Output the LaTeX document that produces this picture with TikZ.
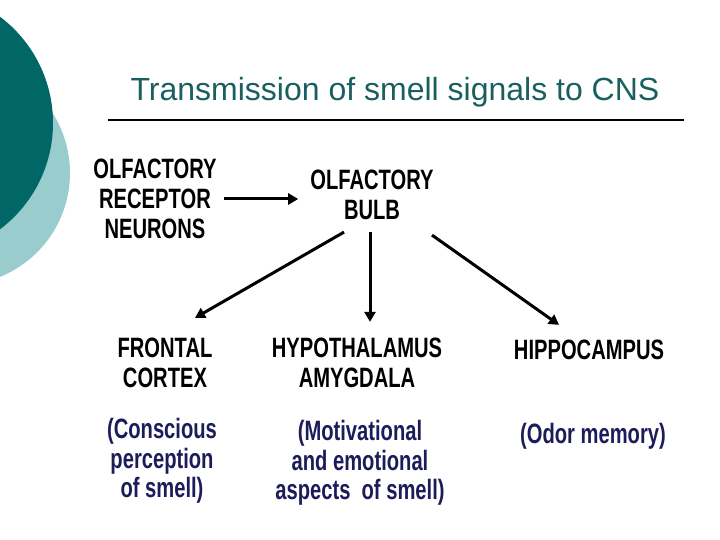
\documentclass[tikz,border=0pt]{standalone}
\usepackage{fontspec}
\setmainfont{Liberation Sans}
\newfontfamily\narrowfont[FakeStretch=0.72]{Liberation Sans}
\usetikzlibrary{arrows.meta,positioning}
\definecolor{darkteal}{HTML}{006666}
\definecolor{paleteal}{HTML}{99CCCC}
\definecolor{titleteal}{HTML}{1A5F60}
\definecolor{notenavy}{HTML}{1C1C5A}

\begin{document}
\begin{tikzpicture}[
    x=1pt, y=-1pt,
    lbl/.style={font=\narrowfont\bfseries\fontsize{28}{30}\selectfont, align=center, inner sep=0pt, text=black},
    note/.style={font=\narrowfont\bfseries\fontsize{28}{29.5}\selectfont, align=center, inner sep=0pt, text=notenavy},
    flow/.style={-{Triangle[length=10pt,width=11pt]}, line width=3pt, black},
]
\useasboundingbox (0,0) rectangle (720,540);

% ============================================================
% DECORATION: CIRCLES AND TITLE
% ============================================================
\begin{scope}
    \clip (0,0) rectangle (720,540);
    \fill[paleteal] (-42,173) circle (112);
    \fill[darkteal] (-80,123) circle (133);
\end{scope}

\node[font=\fontsize{32}{34}\selectfont, text=titleteal] (title) at (395,92) {Transmission of smell signals to CNS};
\coordinate (ruleL) at (108,120);
\coordinate (ruleR) at (684,120);
\draw[line width=1.6pt] (ruleL) -- (ruleR);

% ============================================================
% PATHWAY
% ============================================================
\node[lbl] (orn) at (155,199) {OLFACTORY\\RECEPTOR\\NEURONS};
\node[lbl] (bulb) at (372,195) {OLFACTORY\\BULB};

\node[lbl] (cortex) at (165,363) {FRONTAL\\CORTEX};
\node[lbl] (hypo) at (357,363) {HYPOTHALAMUS\\AMYGDALA};
\node[lbl] (hippo) at (589,350) {HIPPOCAMPUS};

\node[note] (cortexnote) at (162,461) {(Conscious\\perception\\of smell)};
\node[note] (hyponote) at (360,463) {(Motivational\\and emotional\\aspects~ of smell)};
\node[note] (hipponote) at (593,436) {(Odor memory)};

% Arrows
\draw[flow, shorten <=7pt, shorten >=12pt] (orn.east) -- (orn.east -| bulb.west);
\draw[flow] ([xshift=-28pt,yshift=-12pt]bulb.south) -- ([xshift=30pt,yshift=20pt]cortex.north);
\draw[flow] ([xshift=-2pt,yshift=-12pt]bulb.south) -- ([xshift=13pt,yshift=16pt]hypo.north);
\draw[flow] ([xshift=60pt,yshift=-15pt]bulb.south) -- ([xshift=-30pt,yshift=15pt]hippo.north);

\end{tikzpicture}
\end{document}
